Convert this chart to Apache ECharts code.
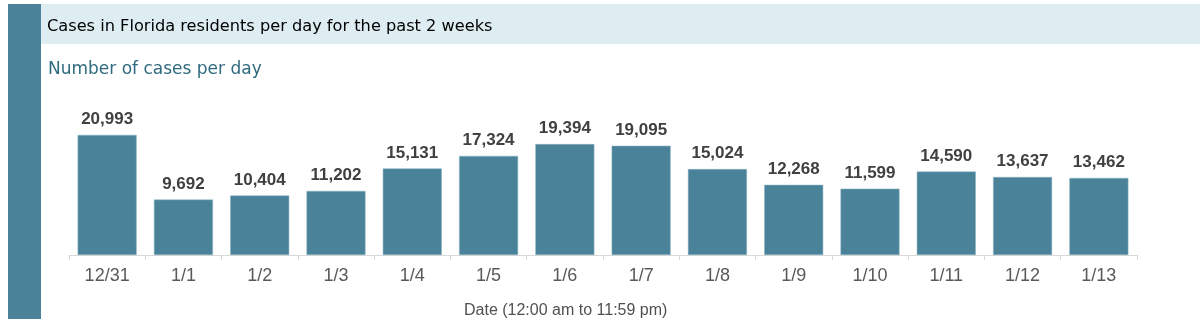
<!DOCTYPE html>
<html><head><meta charset="utf-8">
<script src="https://cdn.jsdelivr.net/npm/echarts@6/dist/echarts.min.js"></script>
<style>html,body{margin:0;padding:0;background:#fff}#c{width:1200px;height:319px}</style>
</head><body><div id="c"></div>
<script>
const categories = ['12/31','1/1','1/2','1/3','1/4','1/5','1/6','1/7','1/8','1/9','1/10','1/11','1/12','1/13'];
const casesPerDay = [20993, 9692, 10404, 11202, 15131, 17324, 19394, 19095, 15024, 12268, 11599, 14590, 13637, 13462];
const titleText = 'Cases in Florida residents per day for the past 2 weeks';
const subtitleText = 'Number of cases per day';
const xAxisName = 'Date (12:00 am to 11:59 pm)';

const chart = echarts.init(document.getElementById('c'), null, {renderer:'canvas'});
chart.setOption({
  animation: false,
  graphic: [
    {type:'rect', shape:{x:41, y:4, width:1159, height:40}, style:{fill:'#deedf2'}, z:0},
    {type:'rect', shape:{x:8, y:4, width:33, height:315}, style:{fill:'#4a8399'}, z:0}
  ],
  title: [
    {text: titleText, left: 42, top: 14, textStyle:{fontFamily:'DejaVu Sans', fontSize:16.2, fontWeight:'normal', color:'#000'}},
    {text: subtitleText, left: 43, top: 56, textStyle:{fontFamily:'DejaVu Sans', fontSize:17, fontWeight:'normal', color:'#2f6a7e'}},
    {text: xAxisName, left: 459, top: 298, textStyle:{fontFamily:'Liberation Sans', fontSize:16, fontWeight:'normal', color:'#505050'}}
  ],
  grid: {left: 69, right: 63, top: 112, bottom: 64, containLabel: false},
  xAxis: {
    type: 'category', data: categories,
    axisLine: {lineStyle:{color:'#d9d9d9', width:1}},
    axisTick: {show:true, length:5, lineStyle:{color:'#d9d9d9'}},
    axisLabel: {fontFamily:'Liberation Sans', fontSize:18, color:'#595959', margin:12}
  },
  yAxis: {type:'value', min:0, max:25000, show:false, splitLine:{show:false}},
  series: [{
    type: 'bar', data: casesPerDay, barWidth: 59,
    itemStyle: {color:'#4a8399', borderColor:'#8db4c3', borderWidth:0.5},
    label: {show:true, position:'top', distance:7, fontFamily:'Liberation Sans', fontSize:17, fontWeight:'bold', color:'#404040',
      formatter: p => p.value.toLocaleString('en-US')}
  }]
});
</script></body></html>
